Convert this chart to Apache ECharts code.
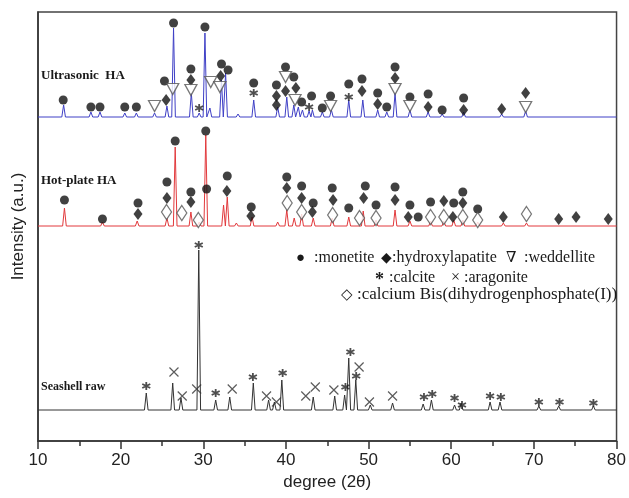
<!DOCTYPE html>
<html>
<head>
<meta charset="utf-8">
<script src="https://cdn.jsdelivr.net/npm/echarts@6/dist/echarts.min.js"></script>
<style>
  html, body { margin: 0; padding: 0; background: #fff; }
  #container { width: 629px; height: 498px; }
</style>
</head>
<body>
<div id="container"></div>
<script>
// peak lists: [2theta, height above the trace baseline]
var ultrasonicBase = 324;
var ultrasonicPeaks = [[13.1,12],[16.4,5],[17.5,5],[20.5,4],[21.9,4],[24.1,4],[25.6,11],[26.4,89],[28.55,24],[29.5,4],[30.2,84],[30.8,9],[32.2,37],[32.7,44],[34.2,3],[36.1,17],[39.0,10],[40.1,20],[40.95,12],[41.5,10],[42.0,7],[42.8,6],[43.2,7],[44.4,5],[45.5,7],[47.6,17],[49.3,17],[51.1,7],[52.2,5],[53.2,24],[55.0,7],[57.2,5],[58.9,3],[61.5,5],[66.1,3],[69.0,6]];

var hotplateBase = 215;
var hotplatePeaks = [[13.2,18],[17.8,4],[22.0,5],[25.6,8],[26.6,79],[28.5,14],[29.5,4],[30.3,91],[32.45,21],[32.9,29],[34.0,3],[35.9,9],[39.0,4],[40.1,16],[41.0,8],[41.9,12],[43.3,8],[45.6,8],[47.6,9],[49.35,15],[50.9,6],[53.2,16],[55.0,5],[57.5,5],[59.1,5],[60.3,6],[61.4,6],[63.2,4],[66.3,3],[69.1,3]];

var seashellBase = 31;
var seashellPeaks = [[23.1,17],[26.3,27],[27.3,12],[29.45,160],[31.5,10],[33.2,13],[36.05,27],[37.9,10],[38.6,8],[39.5,30],[43.3,13],[45.9,14],[47.1,15],[47.6,52],[48.45,30],[50.2,5],[52.9,7],[56.6,6],[57.6,10],[60.4,5],[61.2,7],[64.7,8],[65.9,8],[70.6,4],[73.0,4],[77.2,4]];

// phase markers: [2theta, intensity]
var monetite = [[13.05,341],[16.4,334],[17.5,334],[20.5,334],[21.9,334],[25.3,360],[26.4,418],[28.5,372],[30.2,414],[32.2,377],[33.0,371],[36.1,358],[38.85,356],[39.95,374],[40.95,364],[41.9,339],[43.1,345],[44.4,333],[45.4,345],[47.6,357],[49.2,362],[51.1,348],[52.2,334],[53.2,374],[55.0,344],[57.2,347],[58.9,331],[61.5,343],
  [13.2,241],[17.8,222],[22.1,238],[25.6,259],[26.6,300],[28.5,249],[30.3,310],[30.4,252],[32.9,265],[35.8,234],[40.1,264],[41.9,255],[43.3,238],[45.6,253],[47.6,233],[49.6,255],[50.9,236],[53.2,254],[55.0,236],[56.0,224],[57.5,239],[60.3,238],[61.4,249],[63.2,232]];
var hydroxylapatite = [[25.5,341],[28.5,361],[32.1,365],[38.85,345],[38.85,336],[39.95,350],[41.2,353],[49.2,350],[51.1,337],[53.2,363],[57.2,334],[61.5,331],[66.1,332],[69.0,348],
  [22.1,227],[25.6,243],[28.5,239],[32.85,250],[35.75,225],[40.1,253],[41.9,243],[43.2,229],[45.7,241],[49.4,243],[53.2,241],[54.8,224],[59.1,240],[60.2,224],[61.4,238],[66.3,224],[73.0,222],[75.1,224],[79.0,222]];
var weddellite = [[24.1,335],[26.3,352],[28.5,351],[30.9,359],[32.0,354],[39.95,364],[41.1,341],[45.4,335],[53.2,352],[55.0,335],[69.0,334]];
var calcite = [[29.5,333],[36.1,348],[42.8,334],[47.6,344],
  [23.1,55],[29.45,196],[31.5,48],[36.0,64],[39.6,68],[47.2,54],[47.8,89],[48.5,65],[56.7,44],[57.7,47],[60.4,43],[61.3,36],[64.7,45],[66.0,44],[70.6,39],[73.1,39],[77.2,38]];
var aragonite = [[26.45,69],[27.45,45],[29.2,52],[33.5,52],[37.65,45],[38.85,39],[42.4,45],[43.55,54],[45.8,51],[48.85,74],[50.1,39],[52.9,45]];
var calciumBis = [[25.55,229],[27.4,228],[29.4,221],[40.15,238],[41.9,229],[45.65,226],[48.9,223],[50.9,223],[57.5,224],[59.1,224],[61.4,224],[63.2,221],[69.1,227]];

var xTicks = [10, 20, 30, 40, 50, 60, 70, 80];

function trace(base, peaks) {
    var w = 0.22;
    var pts = [[10, base]];
    peaks.slice().sort(function(a, b) { return a[0] - b[0]; }).forEach(function(p) {
        pts.push([p[0] - w, base], [p[0], base + p[1]], [p[0] + w, base]);
    });
    pts.push([80, base]);
    return pts;
}

var serif = 'Liberation Serif, DejaVu Serif, serif';

var myChart = echarts.init(document.getElementById('container'));

function lineSeries(data, color) {
    return {
        type: 'line',
        data: data,
        showSymbol: false,
        silent: true,
        animation: false,
        lineStyle: { color: color, width: 1 },
        z: 2
    };
}

function markerSeries(data, symbol, size, style, rotate) {
    return {
        type: 'scatter',
        data: data,
        symbol: symbol,
        symbolSize: size,
        symbolRotate: rotate || 0,
        itemStyle: style,
        animation: false,
        z: 5
    };
}

// one piece of the legend / trace captions
function label(x, y, text, font) {
    return {
        type: 'text', x: x, y: y,
        style: { text: text, font: font, fill: '#1a1a1a', verticalAlign: 'middle' }
    };
}

var star = 'path://M5,0L5,10M0.67,2.5L9.33,7.5M0.67,7.5L9.33,2.5';
var cross = 'path://M0,0L10,10M0,10L10,0';
var legendFont = '16px ' + serif;

myChart.setOption({
    backgroundColor: '#fff',
    grid: {
        left: 38, right: 12, top: 12, bottom: 57,
        show: true, borderColor: '#444', borderWidth: 1.5
    },
    xAxis: {
        type: 'value',
        min: 10, max: 80, interval: 10,
        name: 'degree (2\u03b8)',
        nameLocation: 'middle',
        nameGap: 33,
        nameTextStyle: { fontFamily: 'Liberation Sans, Arial', fontSize: 17, color: '#222' },
        axisLine: { lineStyle: { color: '#333', width: 1.5 } },
        axisTick: { length: 8, lineStyle: { color: '#333', width: 1.5 } },
        minorTick: { show: true, splitNumber: 2, length: 5, lineStyle: { color: '#333', width: 1.5 } },
        axisLabel: {
            margin: 11, fontFamily: 'Liberation Sans, Arial', fontSize: 17, color: '#222',
            formatter: function(v) { return xTicks.indexOf(v) >= 0 ? String(v) : ''; }
        },
        splitLine: { show: false }
    },
    yAxis: {
        type: 'value',
        min: 0, max: 429,
        name: 'Intensity (a.u.)',
        nameLocation: 'middle',
        nameGap: 11,
        nameTextStyle: { fontFamily: 'Liberation Sans, Arial', fontSize: 17, color: '#222' },
        axisLine: { show: true, lineStyle: { color: '#333', width: 1.5 } },
        axisTick: { show: false },
        axisLabel: { show: false },
        splitLine: { show: false }
    },
    series: [
        lineSeries(trace(seashellBase, seashellPeaks), '#333'),
        lineSeries(trace(hotplateBase, hotplatePeaks), '#e2393c'),
        lineSeries(trace(ultrasonicBase, ultrasonicPeaks), '#3f40c6'),
        markerSeries(monetite, 'circle', 9, { color: '#111' }),
        markerSeries(hydroxylapatite, 'diamond', [9, 12], { color: '#111' }),
        markerSeries(weddellite, 'triangle', [12, 11], { color: '#fff', borderColor: '#555', borderWidth: 1.3 }, 180),
        markerSeries(calciumBis, 'diamond', [10, 15], { color: '#fff', borderColor: '#555', borderWidth: 1.3 }),
        markerSeries(calcite, star, 8, { color: '#222', borderColor: '#222', borderWidth: 1.8 }),
        markerSeries(aragonite, cross, 9, { color: '#333', borderColor: '#333', borderWidth: 1.2 })
    ],
    graphic: [
        label(41, 76, 'Ultrasonic  HA', 'bold 13px ' + serif),
        label(41, 181, 'Hot-plate HA', 'bold 13px ' + serif),
        label(41, 387, 'Seashell raw', 'bold 12px ' + serif),
        label(296, 258, '\u25cf', '15px ' + serif),
        label(314, 258, ':monetite', legendFont),
        label(381, 258, '\u25c6', '14px ' + serif),
        label(392, 258, ':hydroxylapatite', legendFont),
        label(506, 258, '\u2207', '15px ' + serif),
        label(524, 258, ':weddellite', legendFont),
        label(375, 280, '*', 'bold 18px ' + serif),
        label(389, 278, ':calcite', legendFont),
        label(451, 278, '\u00d7', '16px ' + serif),
        label(464, 278, ':aragonite', legendFont),
        label(341, 295, '\u25c7', '15px ' + serif),
        label(357, 295, ':calcium Bis(dihydrogenphosphate(I))', '17px ' + serif)
    ]
});
</script>
</body>
</html>
